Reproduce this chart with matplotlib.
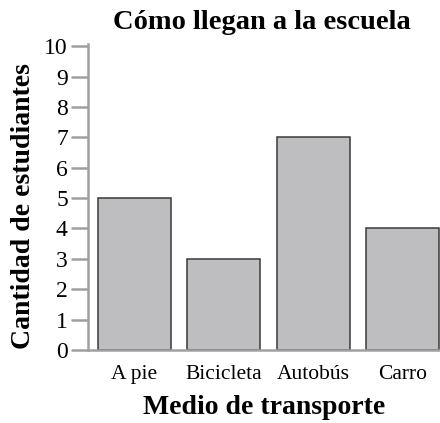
import matplotlib.pyplot as plt
import numpy as np

# datos
medios = ['A pie', 'Bicicleta', 'Autobús', 'Carro']
estudiantes = [5, 3, 7, 4]
yticks = np.arange(0, 11, 1)

plt.rcParams['font.family'] = ['Liberation Serif', 'DejaVu Serif']

fig = plt.figure(figsize=(4.4, 4.23), dpi=100)
ax = fig.add_axes([0.2, 0.1726, 0.8, 0.7234])

x = np.arange(len(medios))
ax.bar(x, estudiantes, width=0.82, color='#bebec0', edgecolor='#3a3a3a', linewidth=1.1)

ax.set_xlim(-0.52, 3.42)
ax.set_ylim(0, 10.07)
ax.set_yticks(yticks)
ax.set_yticklabels([str(v) for v in yticks], fontsize=17)
ax.set_xticks(x)
ax.set_xticklabels(medios, fontsize=15.5)

for s in ['top', 'right']:
    ax.spines[s].set_visible(False)
ax.spines['left'].set_color('#a0a0a0')
ax.spines['left'].set_linewidth(1.8)
ax.spines['bottom'].set_color('#a0a0a0')
ax.spines['bottom'].set_linewidth(1.8)
ax.tick_params(axis='y', length=12.5, width=1.8, color='#a0a0a0', pad=2)
ax.tick_params(axis='x', length=0, pad=11)

ax.set_title('Cómo llegan a la escuela', fontsize=20.5, fontweight='bold', x=0.493, pad=11)
ax.set_xlabel('Medio de transporte', fontsize=20, fontweight='bold', labelpad=8)
ax.set_ylabel('Cantidad de estudiantes', fontsize=20, fontweight='bold')
ax.yaxis.set_label_coords(-0.147, 0.47)

fig.savefig('out.png', dpi=100)
